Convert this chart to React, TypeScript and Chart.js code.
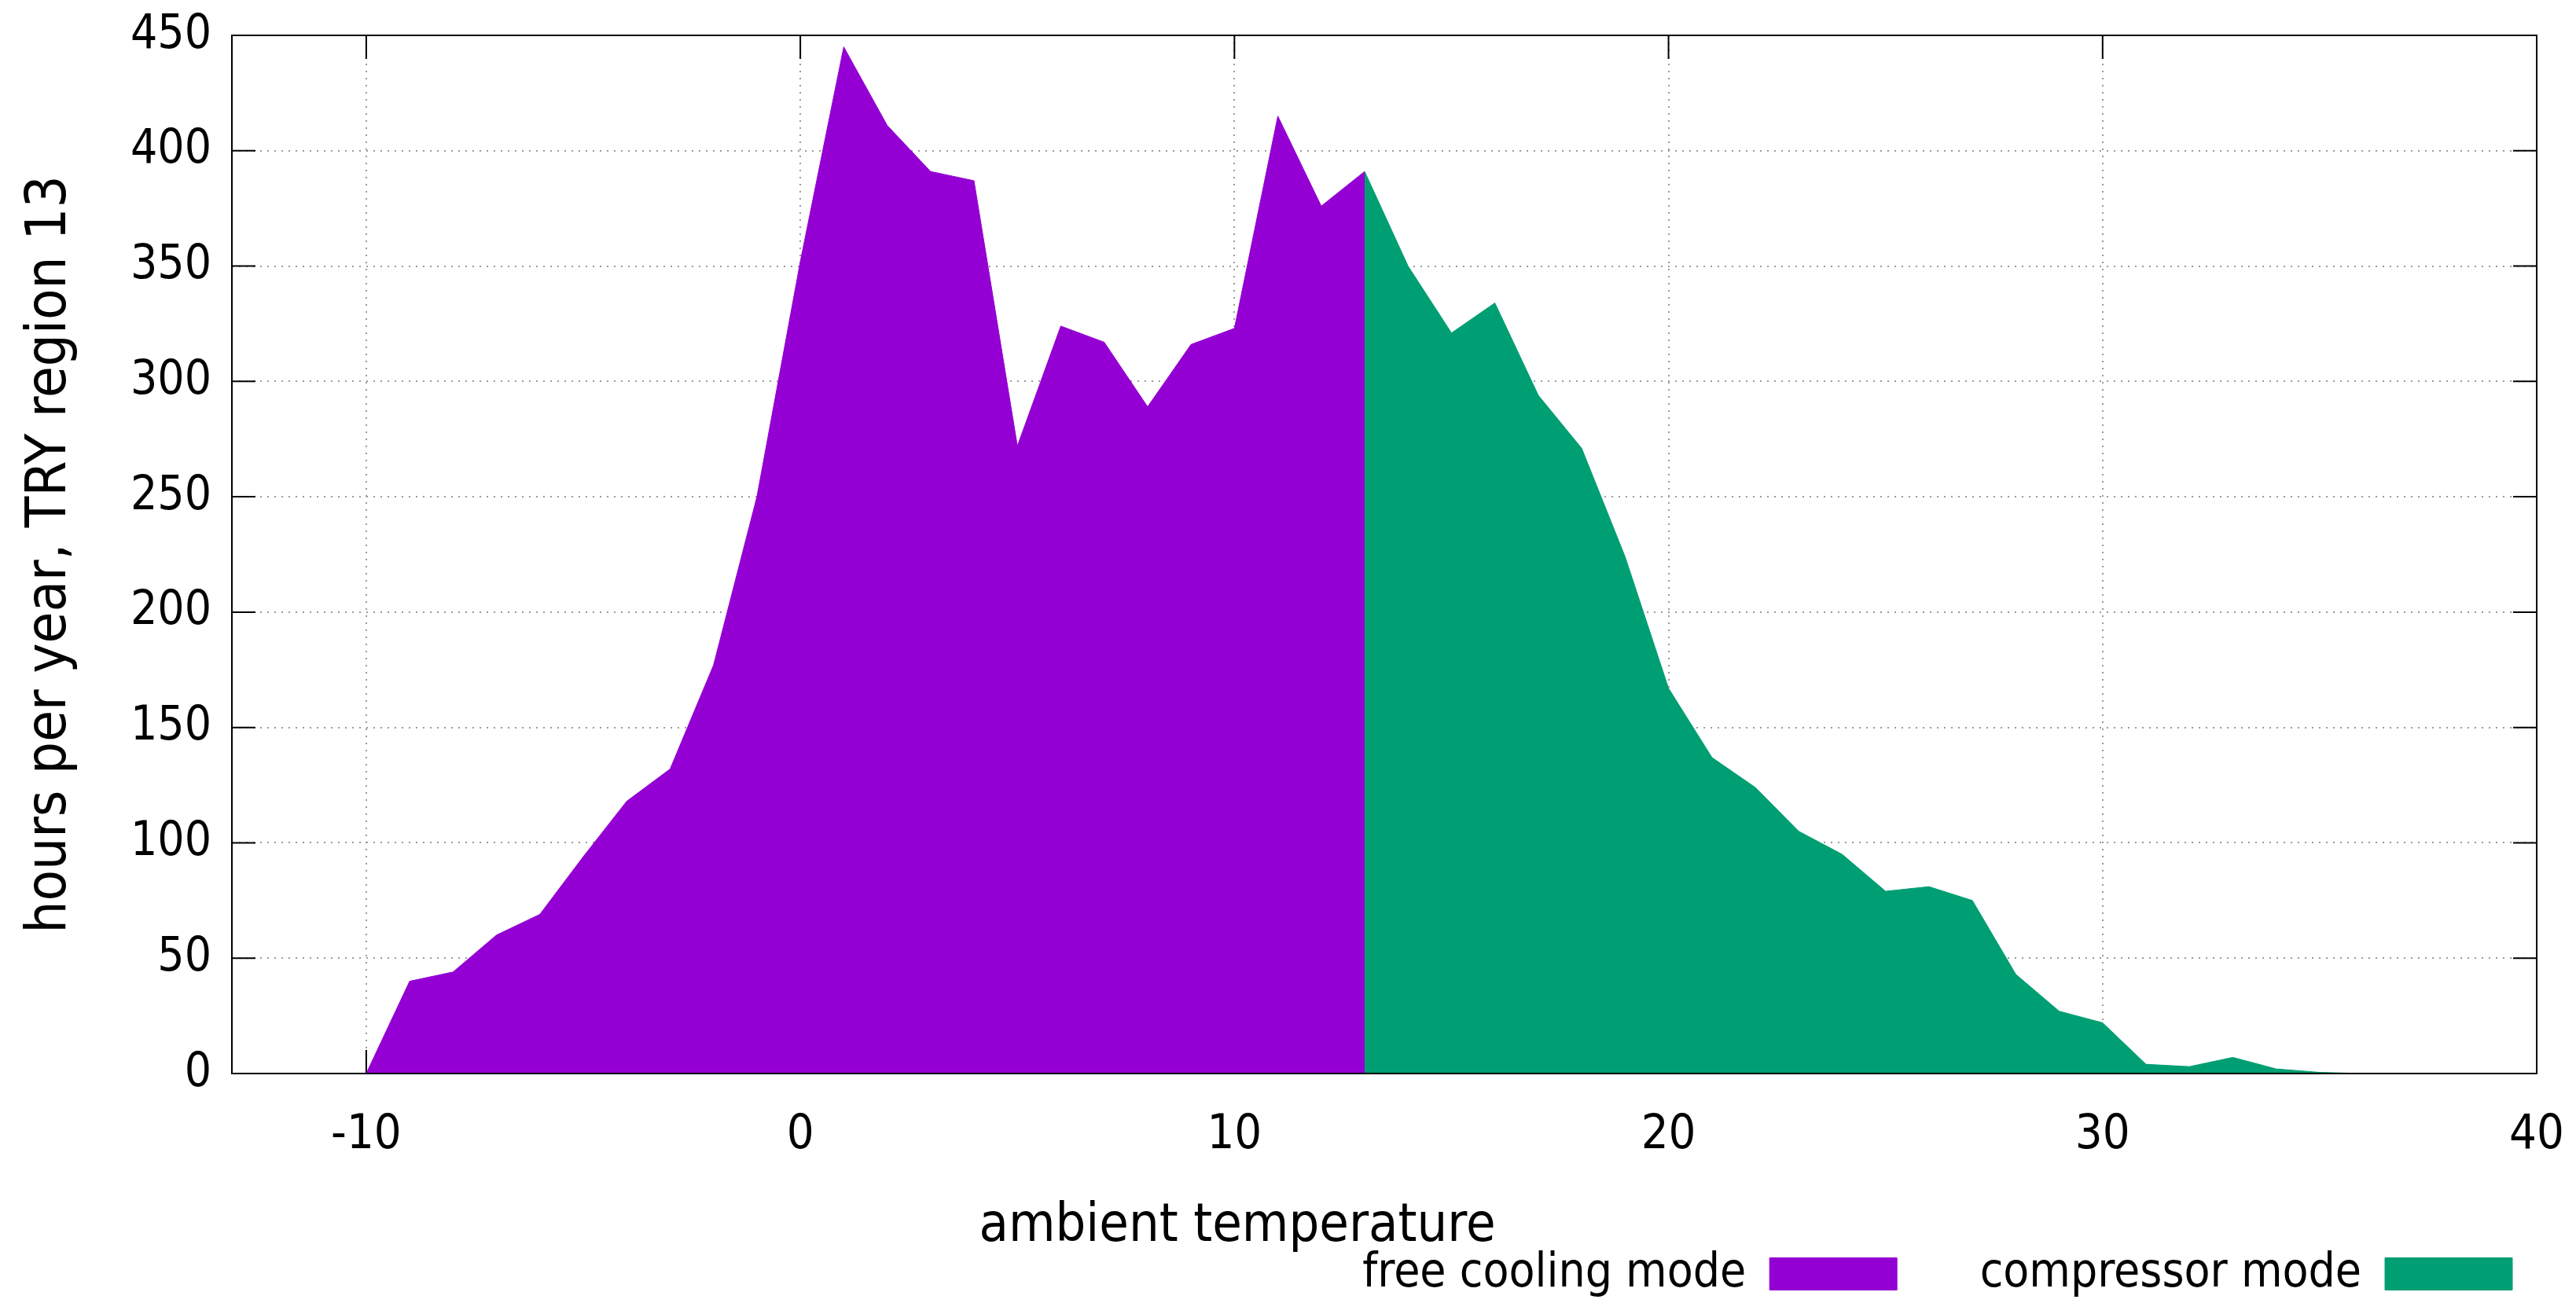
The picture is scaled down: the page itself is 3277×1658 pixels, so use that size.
import React, { useEffect, useRef } from 'react';
import { Chart, registerables } from 'chart.js';

Chart.register(...registerables);

// ---- data ----
const temperatures = [
  -10, -9, -8, -7, -6, -5, -4, -3, -2, -1, 0, 1, 2, 3, 4, 5, 6, 7, 8, 9, 10, 11, 12, 13,
  14, 15, 16, 17, 18, 19, 20, 21, 22, 23, 24, 25, 26, 27, 28, 29, 30, 31, 32, 33, 34, 35, 36,
];
const hoursPerYear = [
  0, 40, 44, 60, 69, 94, 118, 132, 177, 250, 352, 445, 411, 391, 387, 272, 324, 317, 289, 316, 323, 415, 376, 391,
  350, 321, 334, 294, 271, 224, 167, 137, 124, 105, 95, 79, 81, 75, 43, 27, 22, 4, 3, 7, 2, 0.5, 0,
];
const switchTemperature = 13;
const seriesLabels = ['free cooling mode', 'compressor mode'];
const seriesColors = ['#9400d3', '#009e73'];
const xTickValues = [-10, 0, 10, 20, 30, 40];
const yTickValues = [0, 50, 100, 150, 200, 250, 300, 350, 400, 450];
const xRange = [-13.095, 40];
const yRange = [0, 450];
const xTitle = 'ambient temperature';
const yTitle = 'hours per year, TRY region 13';

const FONT = '"DejaVu Sans Condensed", "DejaVu Sans", sans-serif';
const LEGEND_GAP = 105.5;

const framePlugin = {
  id: 'gnuplotFrame',
  afterLayout(chart: any) {
    const lg = chart.legend;
    if (lg) {
      const R = 3196 + LEGEND_GAP;
      lg.left = 0;
      lg.right = R;
      lg.width = R;
      lg.top = 1591 - LEGEND_GAP;
      lg.bottom = chart.height;
      lg.height = lg.bottom - lg.top;
    }
    const tb = chart.titleBlock;
    if (tb) {
      tb.left = 1574 - 1500;
      tb.right = 1574 + 1500;
      tb.width = 3000;
      tb.top = 1521;
      tb.bottom = tb.top + tb.height;
    }
  },
  beforeDatasetsDraw(chart: any) {
    const { ctx, chartArea: a, scales } = chart;
    const x = scales.x;
    const y = scales.y;
    ctx.save();
    ctx.strokeStyle = '#000';
    ctx.lineWidth = 2;
    ctx.beginPath();
    for (const v of xTickValues) {
      const px = x.getPixelForValue(v);
      if (px <= a.left + 1 || px >= a.right - 1) continue;
      ctx.moveTo(px, a.bottom);
      ctx.lineTo(px, a.bottom - 30);
      ctx.moveTo(px, a.top);
      ctx.lineTo(px, a.top + 30);
    }
    for (const v of yTickValues) {
      const py = y.getPixelForValue(v);
      if (py <= a.top + 1 || py >= a.bottom - 1) continue;
      ctx.moveTo(a.left, py);
      ctx.lineTo(a.left + 30, py);
      ctx.moveTo(a.right, py);
      ctx.lineTo(a.right - 30, py);
    }
    ctx.stroke();
    ctx.restore();
  },
  afterDatasetsDraw(chart: any) {
    const { ctx, chartArea: a } = chart;
    ctx.save();
    ctx.strokeStyle = '#000';
    ctx.lineWidth = 2;
    ctx.strokeRect(a.left, a.top, a.right - a.left, a.bottom - a.top);
    ctx.restore();
  },
};

export default function App() {
  const canvasRef = useRef<HTMLCanvasElement | null>(null);

  useEffect(() => {
    document.body.style.margin = '0';
    const canvas = canvasRef.current;
    if (!canvas) return;

    const points = temperatures.map((t, i) => ({ x: t, y: hoursPerYear[i] }));
    const freeCooling = points.filter((p) => p.x <= switchTemperature);
    const compressor = points.filter((p) => p.x >= switchTemperature);

    const gridStyle = {
      color: '#9a9a9a',
      lineWidth: 2,
      drawTicks: false,
      drawOnChartArea: true,
    };

    const chart = new Chart(canvas, {
      type: 'line',
      data: {
        datasets: [
          {
            label: seriesLabels[0],
            data: freeCooling,
            backgroundColor: seriesColors[0],
            borderColor: seriesColors[0],
            borderWidth: 1,
            fill: 'origin',
            pointRadius: 0,
            tension: 0,
          },
          {
            label: seriesLabels[1],
            data: compressor,
            backgroundColor: seriesColors[1],
            borderColor: seriesColors[1],
            borderWidth: 1,
            fill: 'origin',
            pointRadius: 0,
            tension: 0,
          },
        ],
      },
      options: {
        animation: false,
        responsive: false,
        devicePixelRatio: 1,
        layout: { padding: { left: 0, right: 50, top: 45, bottom: 0 } },
        plugins: {
          legend: {
            display: true,
            position: 'bottom',
            align: 'start',
            rtl: true,
            reverse: true,
            maxHeight: 1,
            labels: {
              font: { family: FONT, size: 60 },
              color: '#000',
              boxWidth: 162,
              boxHeight: 41,
              padding: LEGEND_GAP,
            },
          },
          title: {
            display: true,
            position: 'bottom',
            text: xTitle,
            color: '#000',
            font: { family: FONT, size: 68, weight: 'normal' },
            padding: 0,
          },
          tooltip: { enabled: false },
        },
        scales: {
          x: {
            type: 'linear',
            min: xRange[0],
            max: xRange[1],
            afterBuildTicks: (s: any) => {
              s.ticks = xTickValues.map((v) => ({ value: v }));
            },
            afterFit: (s: any) => {
              const c = s.chart;
              const lh = c.legend ? c.legend.height : 0;
              const th = c.titleBlock ? c.titleBlock.height : 0;
              s.height = Math.max(1, 292 - lh - th);
              s.paddingLeft = 0;
              s.paddingRight = 0;
            },
            ticks: {
              font: { family: FONT, size: 61 },
              color: '#000',
              padding: 43,
              maxRotation: 0,
              autoSkip: false,
            },
            grid: gridStyle,
            border: { display: false, dash: [2, 7] },
            title: { display: false },
          },
          y: {
            type: 'linear',
            min: yRange[0],
            max: yRange[1],
            afterBuildTicks: (s: any) => {
              s.ticks = yTickValues.map((v) => ({ value: v }));
            },
            afterFit: (s: any) => {
              s.width = 295;
              s.paddingTop = 0;
              s.paddingBottom = 0;
            },
            ticks: {
              font: { family: FONT, size: 60 },
              color: '#000',
              padding: 26,
              autoSkip: false,
            },
            grid: gridStyle,
            border: { display: false, dash: [2, 7] },
            title: {
              display: true,
              text: yTitle,
              color: '#000',
              font: { family: FONT, size: 72 },
              padding: { top: 21, bottom: 0 },
            },
          },
        },
      },
      plugins: [framePlugin],
    } as any);

    return () => {
      chart.destroy();
    };
  }, []);

  return (
    <canvas
      ref={canvasRef}
      width={3277}
      height={1658}
      style={{ display: 'block', width: '3277px', height: '1658px' }}
    />
  );
}
